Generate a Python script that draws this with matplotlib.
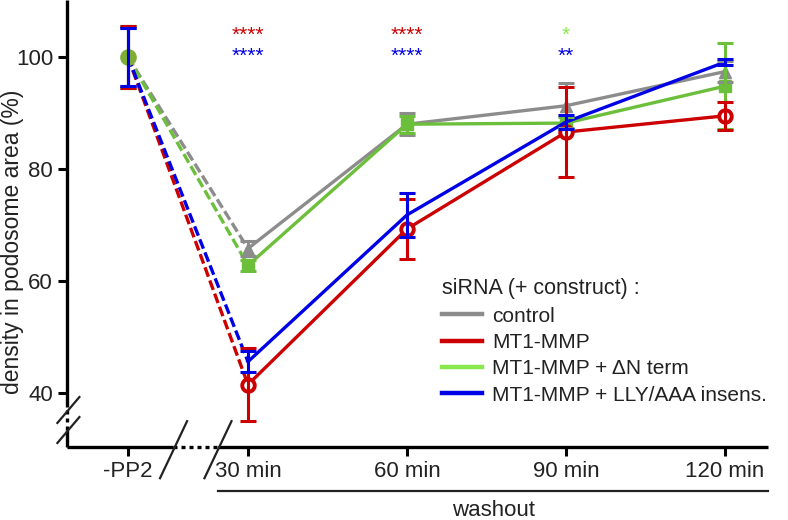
import numpy as np
import matplotlib
matplotlib.use('Agg')
import matplotlib.pyplot as plt
from matplotlib.lines import Line2D

plt.rcParams['font.family'] = ['Liberation Sans', 'DejaVu Sans']

# categories and x positions (30 min = 0, one unit per 30 min step)
labels = ['-PP2', '30 min', '60 min', '90 min', '120 min']
xpos = [-0.755, 0, 1, 2, 3]

# series values (% density in podosome area) and error bars
control = [100, 65.8, 88.0, 91.3, 97.4]
control_err = [5.5, 1.4, 2.0, 4.0, 1.8]
mmp = [100, 41.5, 69.3, 86.6, 89.5]
mmp_err = [5.5, 6.5, 5.4, 8.0, 2.5]
dn = [100, 62.8, 88.0, 88.2, 94.8]
dn_err = [5.5, 1.0, 1.5, 1.0, 7.7]
lly = [100, 45.6, 71.8, 88.4, 99.1]
lly_err = [5.1, 1.9, 3.9, 1.2, 0.5]

# significance stars: (x index, row, text, colour key)
stars = [(1, 0, '****', 'red'), (1, 1, '****', 'blue'),
         (2, 0, '****', 'red'), (2, 1, '****', 'blue'),
         (3, 0, '*', 'lgreen'), (3, 1, '**', 'blue')]

colors = {'gray': '#8c8c8c', 'red': '#cc0000', 'green': '#6cbf3a',
          'lgreen': '#88e84c', 'blue': '#0000e6'}

fig = plt.figure(figsize=(7.88, 5.2), dpi=100)
ax = fig.add_axes([67 / 788, 73 / 520, 701 / 788, 447 / 520])

series = [
    (control, control_err, colors['gray'], '^', dict(mfc=colors['gray'])),
    (dn, dn_err, colors['green'], 's', dict(mfc=colors['green'])),
    (mmp, mmp_err, colors['red'], 'o', dict(mfc='white', mew=2.8)),
    (lly, lly_err, colors['blue'], '', dict()),
]

for vals, err, c, m, mk in series:
    # dashed from -PP2 to 30 min
    ax.plot(xpos[:2], vals[:2], color=c, lw=2.4, ls=(0, (3, 1.2)), zorder=3)
    ax.plot(xpos[1:], vals[1:], color=c, lw=2.4, marker=m, ms=9, mec=c, zorder=3, **mk)
    ax.errorbar(xpos, vals, yerr=err, fmt='none', ecolor=c, elinewidth=2.2,
                capsize=5.5, capthick=2.2, zorder=4)

# -PP2 shared marker
ax.plot(xpos[0], dn[0], 'o', ms=11, color='#7fae35', zorder=5)
ax.errorbar(xpos[0], lly[0], yerr=lly_err[0], fmt='none', ecolor=colors['blue'],
            elinewidth=2.2, capsize=5.5, capthick=2.2, zorder=6)

for i, row, txt, ck in stars:
    ax.text(xpos[i], [0.922, 0.873][row], txt, color=colors[ck], fontsize=15,
            ha='center', va='center', transform=ax.get_xaxis_transform())

ax.set_xlim(-1.138, 3.27)
ax.set_ylim(30.36, 110.18)
ax.set_xticks(xpos)
ax.set_xticklabels(labels)
ax.set_yticks([40, 60, 80, 100])
ax.tick_params(axis='both', labelsize=16, width=2.2, length=6.5, color='black',
               labelcolor='#222222')
ax.set_ylabel('density in podosome area (%)', fontsize=16.5, color='#222222')
ax.yaxis.set_label_coords(-0.062, 0.46)

for s in ax.spines.values():
    s.set_visible(False)

# axes drawn by hand with breaks
T = ax.transAxes
kw = dict(color='black', lw=2.4, transform=T, clip_on=False, solid_capstyle='butt')
ax.plot([0, 0.151], [0, 0], **kw)
ax.plot([0.151, 0.2154], [0, 0], ls=(0, (1.2, 1.2)), **kw)
ax.plot([0.2154, 1], [0, 0], **kw)
ax.plot([0, 0], [0.0895, 1], **kw)
ax.plot([0, 0], [0.038, 0.0895], ls=(0, (1.2, 1.2)), **kw)
ax.plot([0, 0], [0, 0.038], **kw)
kw2 = dict(color='#222222', lw=1.6, transform=T, clip_on=False)
for cx in [0.152, 0.2154]:
    ax.plot([cx - 0.0193, cx + 0.0193], [-0.0638 - 0.006, 0.0638 - 0.006], **kw2)
for cy in [0.0828, 0.038]:
    ax.plot([0.002 - 0.0157, 0.002 + 0.0157], [cy - 0.029, cy + 0.029], **kw2)

# washout bracket
ax.plot([0.2154, 1], [-0.0984, -0.0984], color='#222222', lw=1.6, transform=T, clip_on=False)
ax.text(0.608, -0.141, 'washout', transform=T, ha='center', va='center',
        fontsize=16, color='#222222')

handles = [Line2D([], [], color=c, lw=3.2) for c in
           [colors['gray'], colors['red'], colors['lgreen'], colors['blue']]]
names = ['control', 'MT1-MMP', 'MT1-MMP + ΔN term', 'MT1-MMP + LLY/AAA insens.']
leg = ax.legend(handles, names, title='siRNA (+ construct) :', loc='upper left',
                bbox_to_anchor=(432 / 788, 1 - 268 / 520), bbox_transform=fig.transFigure,
                frameon=False, fontsize=15, title_fontsize=15.5, handlelength=1.9,
                handletextpad=0.5, labelspacing=0.35, alignment='left', borderpad=0)
for t in leg.get_texts():
    t.set_color('#222222')
leg.get_title().set_color('#222222')

fig.savefig('out.png', dpi=100)
